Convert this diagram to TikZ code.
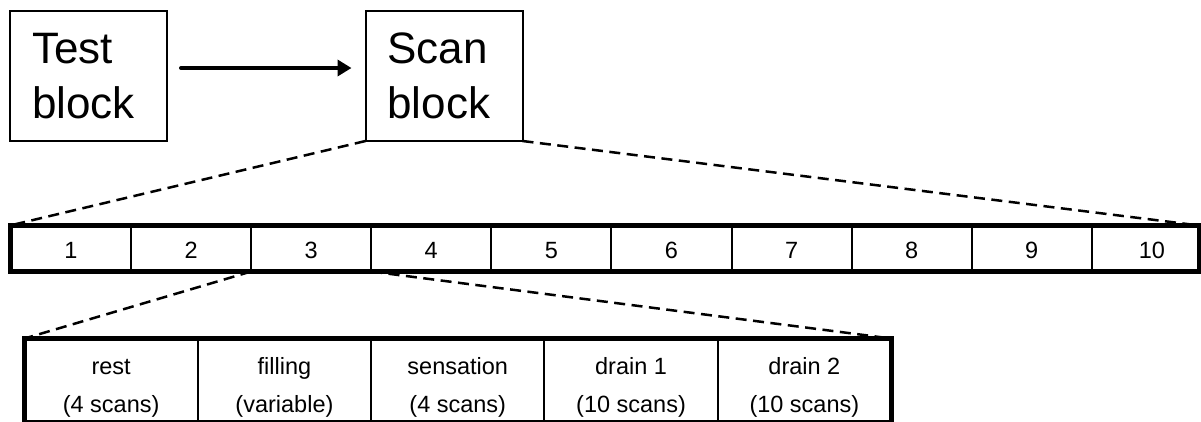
\documentclass[tikz,border=0pt]{standalone}
\usepackage{fontspec}
\setmainfont{Liberation Sans}
\usetikzlibrary{arrows.meta}
\newcommand{\firstline}{\rule{0pt}{18pt}}
\tikzset{
  bigbox/.style={draw=black, line width=2pt, minimum width=157pt, minimum height=130pt,
    inner xsep=22pt, inner ysep=0pt, outer sep=0pt, text width=113pt, align=left,
    font=\fontsize{44pt}{55pt}\selectfont},
  numcell/.style={draw=black, line width=2pt, minimum width=120.1pt, minimum height=46pt,
    inner sep=0pt, outer sep=0pt, text height=19pt, text depth=0pt,
    font=\fontsize{23.5pt}{28pt}\selectfont},
  detcell/.style={draw=black, line width=2pt, minimum width=173.3pt, minimum height=95pt,
    inner sep=0pt, outer sep=0pt, align=center,
    font=\fontsize{23.5pt}{38.5pt}\selectfont},
  frame/.style={draw=black, line width=5pt, inner sep=0pt, outer sep=0pt},
  zoomline/.style={draw=black, line width=2.5pt, dash pattern=on 11pt off 6.5pt},
  flow/.style={draw=black, line width=4pt, line cap=round,
    -{Triangle[length=14pt,width=16pt]}, shorten <=14pt, shorten >=14pt}
}
\begin{document}
\begin{tikzpicture}[x=1pt,y=-1pt]
\useasboundingbox (0,0) rectangle (1201,421);
\clip (0,0) rectangle (1201,421);
% top blocks
\node[bigbox] (test) at (88.5,76) {Test\\block};
\node[bigbox] (scan) at (444,76) {Scan\\block};
\draw[flow] ([yshift=8pt]test.east) -- ([yshift=8pt]scan.west);
% scan row
\foreach \i in {1,...,10} {
  \node[numcell] (c\i) at ({10.9+120.1*(\i-0.5)},248.5) {\i};
}
\node[frame, minimum width=1189pt, minimum height=46pt] (row) at (604.5,248.5) {};
% detail row
\foreach \i/\t in {1/{\firstline rest\\(4 scans)}, 2/{\firstline filling\\(variable)},
                   3/{\firstline sensation\\(4 scans)},
                   4/{\firstline drain 1\\(10 scans)}, 5/{\firstline drain 2\\(10 scans)}} {
  \node[detcell] (d\i) at ({24.5+173.3*(\i-0.5)},386.75) {\t};
}
\node[frame, minimum width=866.5pt, minimum height=84pt] (detail) at (457.75,380.5) {};
% zoom lines
\draw[zoomline] (scan.south west) -- (row.north west);
\draw[zoomline] (scan.south east) -- (row.north east);
\draw[zoomline] (c2.south east) -- (detail.north west);
\draw[zoomline] (c3.south east) -- (detail.north east);
\end{tikzpicture}
\end{document}
